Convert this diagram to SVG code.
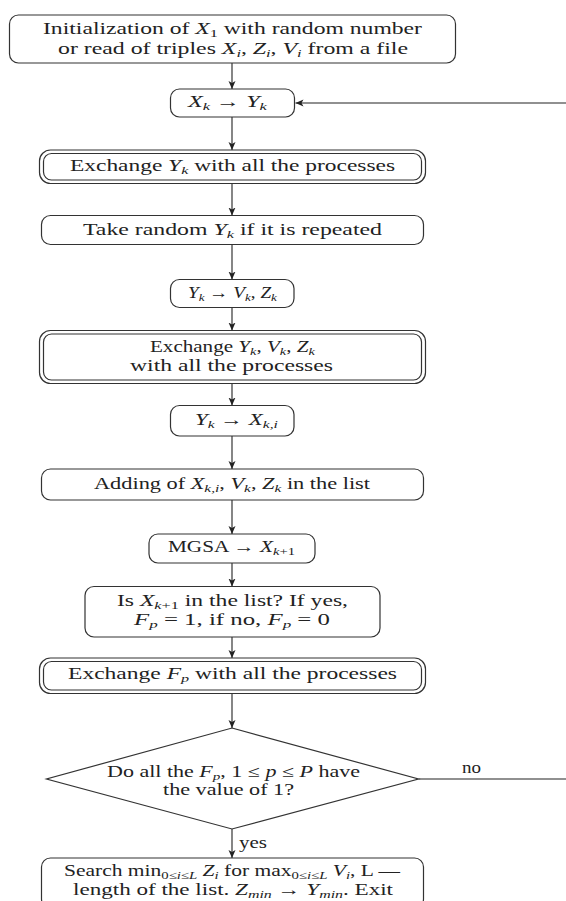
<svg xmlns="http://www.w3.org/2000/svg" width="566" height="901" viewBox="0 0 566 901">
<style>
.b{fill:#fff;stroke:#333;stroke-width:1.2}
.c{fill:none;stroke:#222;stroke-width:1.1}
text{font-family:"Liberation Serif","DejaVu Serif",serif;font-size:16px;fill:#222}
.i{font-style:italic}
.s{font-size:11px;font-style:italic}
.sr{font-size:11px}
</style>
<defs>
<marker id="ah" markerUnits="userSpaceOnUse" markerWidth="9" markerHeight="8" refX="8" refY="4" orient="auto">
<path d="M0,0.5 L8,4 L0,7.5 L2,4 z" fill="#222"/>
</marker>
</defs>
<rect width="566" height="901" fill="#fff"/>
<g id="connectors" font-family="Liberation Serif, serif">
<line class="c" x1="232" y1="63" x2="232" y2="89" marker-end="url(#ah)"/>
<line class="c" x1="232" y1="117" x2="232" y2="150" marker-end="url(#ah)"/>
<line class="c" x1="232" y1="183.5" x2="232" y2="215.5" marker-end="url(#ah)"/>
<line class="c" x1="232" y1="244.5" x2="232" y2="279.5" marker-end="url(#ah)"/>
<line class="c" x1="232" y1="307.5" x2="232" y2="330.5" marker-end="url(#ah)"/>
<line class="c" x1="232" y1="383.5" x2="232" y2="405.5" marker-end="url(#ah)"/>
<line class="c" x1="232" y1="436" x2="232" y2="469" marker-end="url(#ah)"/>
<line class="c" x1="232" y1="500" x2="232" y2="534" marker-end="url(#ah)"/>
<line class="c" x1="232" y1="563" x2="232" y2="586.5" marker-end="url(#ah)"/>
<line class="c" x1="232" y1="637" x2="232" y2="658" marker-end="url(#ah)"/>
<line class="c" x1="232" y1="693.5" x2="232" y2="728" marker-end="url(#ah)"/>
<line class="c" x1="232" y1="829" x2="232" y2="858" marker-end="url(#ah)"/>
<line class="c" x1="418.5" y1="779" x2="566" y2="779"/>
<line class="c" x1="566" y1="103" x2="295.5" y2="103" marker-end="url(#ah)"/>
<text x="239" y="848" textLength="28" lengthAdjust="spacingAndGlyphs">yes</text>
<text x="462" y="773" textLength="19" lengthAdjust="spacingAndGlyphs">no</text>
</g>
<g id="n1">
<rect class="b" x="9.5" y="15" width="446" height="48" rx="9"/>
<text x="43" y="34" textLength="379" lengthAdjust="spacingAndGlyphs">Initialization of <tspan class="i">X</tspan><tspan class="sr" dy="3">1</tspan><tspan dy="-3"> with random number</tspan></text>
<text x="58" y="54" textLength="350" lengthAdjust="spacingAndGlyphs">or read of triples <tspan class="i">X</tspan><tspan class="s" dy="3">i</tspan><tspan dy="-3">, </tspan><tspan class="i">Z</tspan><tspan class="s" dy="3">i</tspan><tspan dy="-3">, </tspan><tspan class="i">V</tspan><tspan class="s" dy="3">i</tspan><tspan dy="-3"> from a file</tspan></text>
</g>
<g id="n2">
<rect class="b" x="170.5" y="89" width="124" height="28" rx="9"/>
<text x="188" y="107" textLength="79" lengthAdjust="spacingAndGlyphs"><tspan class="i">X</tspan><tspan class="s" dy="3">k</tspan><tspan dy="-3"> → </tspan><tspan class="i">Y</tspan><tspan class="s" dy="3">k</tspan></text>
</g>
<g id="n3">
<rect class="b" x="39.5" y="150" width="386" height="33.5" rx="11"/>
<rect class="b" x="43.5" y="153.5" width="378" height="26.5" rx="8"/>
<text x="70" y="171" textLength="325" lengthAdjust="spacingAndGlyphs">Exchange <tspan class="i">Y</tspan><tspan class="s" dy="3">k</tspan><tspan dy="-3"> with all the processes</tspan></text>
</g>
<g id="n4">
<rect class="b" x="41.5" y="215.5" width="382" height="29" rx="9"/>
<text x="83" y="235" textLength="299" lengthAdjust="spacingAndGlyphs">Take random <tspan class="i">Y</tspan><tspan class="s" dy="3">k</tspan><tspan dy="-3"> if it is repeated</tspan></text>
</g>
<g id="n5">
<rect class="b" x="170.5" y="279.5" width="123.5" height="28" rx="9"/>
<text x="188" y="298" textLength="89" lengthAdjust="spacingAndGlyphs"><tspan class="i">Y</tspan><tspan class="s" dy="3">k</tspan><tspan dy="-3"> → </tspan><tspan class="i">V</tspan><tspan class="s" dy="3">k</tspan><tspan dy="-3">, </tspan><tspan class="i">Z</tspan><tspan class="s" dy="3">k</tspan></text>
</g>
<g id="n6">
<rect class="b" x="39.5" y="330.5" width="386" height="53" rx="11"/>
<rect class="b" x="43.5" y="334" width="378" height="46" rx="8"/>
<text x="150" y="352" textLength="165" lengthAdjust="spacingAndGlyphs">Exchange <tspan class="i">Y</tspan><tspan class="s" dy="3">k</tspan><tspan dy="-3">, </tspan><tspan class="i">V</tspan><tspan class="s" dy="3">k</tspan><tspan dy="-3">, </tspan><tspan class="i">Z</tspan><tspan class="s" dy="3">k</tspan></text>
<text x="130" y="371" textLength="203" lengthAdjust="spacingAndGlyphs">with all the processes</text>
</g>
<g id="n7">
<rect class="b" x="170.5" y="405.5" width="123.5" height="30.5" rx="9"/>
<text x="195" y="425" textLength="83" lengthAdjust="spacingAndGlyphs"><tspan class="i">Y</tspan><tspan class="s" dy="3">k</tspan><tspan dy="-3"> → </tspan><tspan class="i">X</tspan><tspan class="s" dy="3">k,i</tspan></text>
</g>
<g id="n8">
<rect class="b" x="41.5" y="469" width="382" height="31" rx="9"/>
<text x="94" y="489" textLength="276" lengthAdjust="spacingAndGlyphs">Adding of <tspan class="i">X</tspan><tspan class="s" dy="3">k,i</tspan><tspan dy="-3">, </tspan><tspan class="i">V</tspan><tspan class="s" dy="3">k</tspan><tspan dy="-3">, </tspan><tspan class="i">Z</tspan><tspan class="s" dy="3">k</tspan><tspan dy="-3"> in the list</tspan></text>
</g>
<g id="n9">
<rect class="b" x="149" y="534" width="166" height="29" rx="9"/>
<text x="168" y="552" textLength="127" lengthAdjust="spacingAndGlyphs">MGSA → <tspan class="i">X</tspan><tspan class="s" dy="3">k</tspan><tspan class="sr">+1</tspan></text>
</g>
<g id="n10">
<rect class="b" x="85" y="586.5" width="295" height="50.5" rx="9"/>
<text x="117" y="606" textLength="231" lengthAdjust="spacingAndGlyphs">Is <tspan class="i">X</tspan><tspan class="s" dy="3">k</tspan><tspan class="sr">+1</tspan><tspan dy="-3"> in the list? If yes,</tspan></text>
<text x="134" y="625" textLength="196" lengthAdjust="spacingAndGlyphs"><tspan class="i">F</tspan><tspan class="s" dy="3">p</tspan><tspan dy="-3"> = 1, if no, </tspan><tspan class="i">F</tspan><tspan class="s" dy="3">p</tspan><tspan dy="-3"> = 0</tspan></text>
</g>
<g id="n11">
<rect class="b" x="39.5" y="658" width="386" height="35.5" rx="11"/>
<rect class="b" x="43.5" y="661.5" width="378" height="28.5" rx="8"/>
<text x="68" y="679" textLength="329" lengthAdjust="spacingAndGlyphs">Exchange <tspan class="i">F</tspan><tspan class="s" dy="3">p</tspan><tspan dy="-3"> with all the processes</tspan></text>
</g>
<g id="n12">
<polygon class="b" points="232,728 418.5,779 232,829 46.5,779"/>
<text x="107" y="777" textLength="253" lengthAdjust="spacingAndGlyphs">Do all the <tspan class="i">F</tspan><tspan class="s" dy="3">p</tspan><tspan dy="-3">, 1 ≤ </tspan><tspan class="i">p</tspan><tspan> ≤ </tspan><tspan class="i">P</tspan><tspan> have</tspan></text>
<text x="163" y="795" textLength="131" lengthAdjust="spacingAndGlyphs">the value of 1?</text>
</g>
<g id="n13">
<rect class="b" x="41.5" y="858" width="382" height="50" rx="9"/>
<text x="64" y="876" textLength="336" lengthAdjust="spacingAndGlyphs">Search min<tspan class="sr" dy="2.5">0≤</tspan><tspan class="s">i</tspan><tspan class="sr">≤</tspan><tspan class="s">L</tspan><tspan dy="-2.5"> </tspan><tspan class="i">Z</tspan><tspan class="s" dy="2.5">i</tspan><tspan dy="-2.5"> for max</tspan><tspan class="sr" dy="2.5">0≤</tspan><tspan class="s">i</tspan><tspan class="sr">≤</tspan><tspan class="s">L</tspan><tspan dy="-2.5"> </tspan><tspan class="i">V</tspan><tspan class="s" dy="2.5">i</tspan><tspan dy="-2.5">, L —</tspan></text>
<text x="73" y="895" textLength="320" lengthAdjust="spacingAndGlyphs">length of the list. <tspan class="i">Z</tspan><tspan class="s" dy="3">min</tspan><tspan dy="-3"> → </tspan><tspan class="i">Y</tspan><tspan class="s" dy="3">min</tspan><tspan dy="-3">. Exit</tspan></text>
</g>
</svg>
